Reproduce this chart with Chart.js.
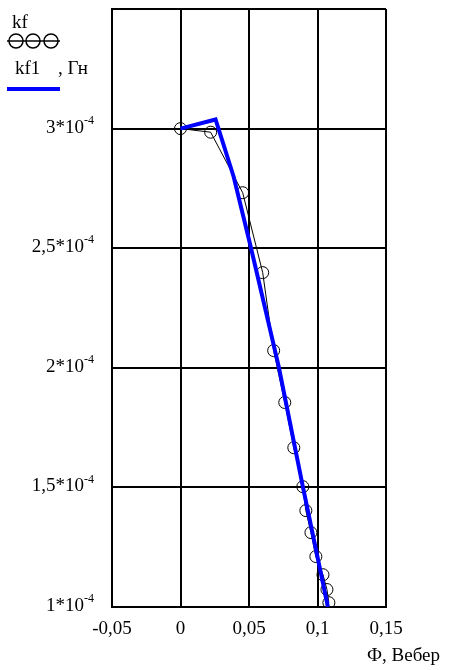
<!DOCTYPE html>
<html>
<head>
<meta charset="utf-8">
<script src="https://cdn.jsdelivr.net/npm/chart.js@4"></script>
<style>
  html, body { margin: 0; padding: 0; background: #fff; }
  #caixa { width: 451px; height: 670px; }
</style>
</head>
<body>
<div id="caixa"><canvas id="meuGrafico"></canvas></div>
<script>
    // kf - pontos medidos (circulos)
    const kfX = [0, 0.0220, 0.0454, 0.0600, 0.0680, 0.0761, 0.0827, 0.0893, 0.0915, 0.0952, 0.0988, 0.1040, 0.1069, 0.1083];
    const kfY = [3.0e-4, 2.985e-4, 2.732e-4, 2.398e-4, 2.072e-4, 1.855e-4, 1.666e-4, 1.503e-4, 1.403e-4, 1.311e-4, 1.211e-4, 1.135e-4, 1.073e-4, 1.018e-4];

    // kf1 - curva aproximada (linha azul)
    const kf1X = [0, 0.0256, 0.0388, 0.0512, 0.0717, 0.0893, 0.1076];
    const kf1Y = [3.0e-4, 3.038e-4, 2.799e-4, 2.507e-4, 2.005e-4, 1.503e-4, 1.0e-4];

    // ticks dos eixos
    const xTicks = [-0.05, 0, 0.05, 0.1, 0.15];
    const xTickLabels = ['-0,05', '0', '0,05', '0,1', '0,15'];
    const yTicks = [1e-4, 1.5e-4, 2e-4, 2.5e-4, 3e-4, 3.5e-4];
    const yTickLabels = ['1', '1,5', '2', '2,5', '3', ''];
    const yExpoente = '-4';

    const fonte = '"Liberation Serif", serif';

    const pares = (xs, ys) => xs.map((x, i) => ({ x: x, y: ys[i] }));

    // desenha rotulos do eixo Y (com expoente), legenda e titulo do eixo X
    const extras = {
        id: 'extras',
        afterDraw(chart) {
            const c = chart.ctx;
            const y = chart.scales.y;
            c.save();
            c.fillStyle = '#000';
            c.textBaseline = 'middle';
            y.ticks.forEach((t, i) => {
                const txt = yTickLabels[i];
                if (!txt) return;
                const py = y.getPixelForValue(t.value);
                c.font = '12px ' + fonte;
                const wExp = c.measureText(yExpoente).width;
                c.textAlign = 'right';
                c.fillText(yExpoente, 94, py - 8);
                c.font = '19px ' + fonte;
                c.fillText(txt + '*10', 94 - wExp, py - 1);
            });

            // legenda
            c.textAlign = 'left';
            c.textBaseline = 'alphabetic';
            c.font = '19px ' + fonte;
            c.fillText('kf', 12, 28);
            c.strokeStyle = '#000';
            c.lineWidth = 1.5;
            c.beginPath(); c.moveTo(7, 41); c.lineTo(60, 41); c.stroke();
            [16, 33, 51].forEach(cx => {
                c.beginPath(); c.arc(cx, 41, 7, 0, Math.PI * 2); c.stroke();
            });
            c.fillText('kf1', 15, 74);
            c.fillText(', Гн', 58, 74);
            c.strokeStyle = '#0000ff';
            c.lineWidth = 4;
            c.beginPath(); c.moveTo(7, 89); c.lineTo(60, 89); c.stroke();

            // titulo do eixo X
            c.textAlign = 'right';
            c.fillText('Ф, Вебер', 440, 661);
            c.restore();
        }
    };

    const ctx = document.getElementById('meuGrafico').getContext('2d');

    const meuGrafico = new Chart(ctx, {
        type: 'line',
        data: {
            datasets: [{
                label: 'kf1',
                data: pares(kf1X, kf1Y),
                borderColor: '#0000ff',
                borderWidth: 4,
                pointRadius: 0,
                fill: false,
                tension: 0
            }, {
                label: 'kf',
                data: pares(kfX, kfY),
                borderColor: '#000',
                borderWidth: 1,
                pointRadius: 6,
                pointStyle: 'circle',
                pointBorderColor: '#000',
                pointBackgroundColor: 'rgba(0,0,0,0)',
                pointBorderWidth: 1,
                fill: false,
                tension: 0
            }]
        },
        options: {
            responsive: true,
            maintainAspectRatio: false,
            animation: false,
            layout: { padding: { top: 9, right: 65, left: 0, bottom: 0 } },
            plugins: { legend: { display: false }, tooltip: { enabled: false } },
            scales: {
                x: {
                    type: 'linear',
                    min: -0.05,
                    max: 0.15,
                    afterBuildTicks: s => { s.ticks = xTicks.map(v => ({ value: v })); },
                    afterFit: s => { s.height = 63; },
                    ticks: {
                        callback: (v, i) => xTickLabels[i],
                        color: '#000',
                        font: { family: fonte, size: 19 },
                        padding: 11,
                        maxRotation: 0,
                        autoSkip: false
                    },
                    grid: { color: '#000', lineWidth: 2, drawTicks: false },
                    border: { color: '#000', width: 2 }
                },
                y: {
                    type: 'linear',
                    min: 1e-4,
                    max: 3.5e-4,
                    afterBuildTicks: s => { s.ticks = yTicks.map(v => ({ value: v })); },
                    afterFit: s => { s.width = 112; },
                    ticks: { display: false },
                    grid: { color: '#000', lineWidth: 2, drawTicks: false },
                    border: { color: '#000', width: 2 }
                }
            }
        },
        plugins: [extras]
    });
</script>
</body>
</html>
